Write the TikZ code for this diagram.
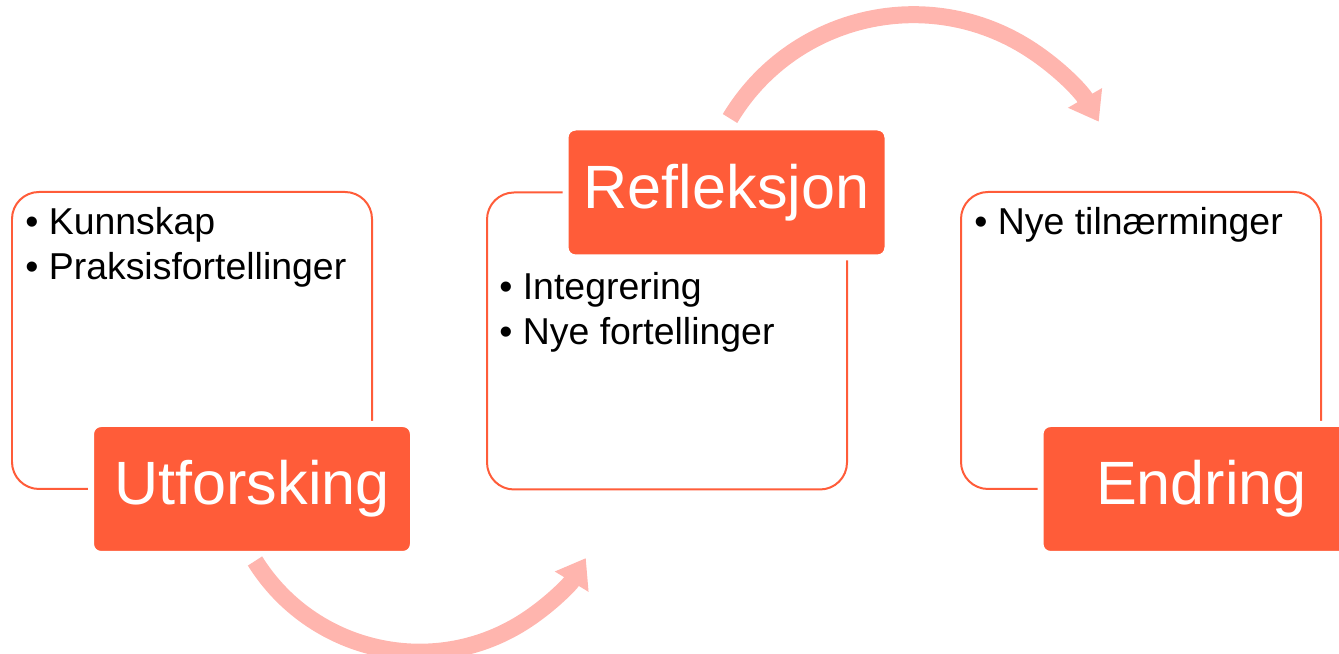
\documentclass[tikz,border=0pt]{standalone}
\usepackage{fontspec}
\setmainfont{Liberation Sans}
\usepackage{xcolor}
\usepackage{tikz}
\usetikzlibrary{positioning, arrows.meta}

\definecolor{accent}{RGB}{255,92,57}
\definecolor{flowpink}{RGB}{255,181,174}
\newcommand{\bitem}[1]{\makebox[0.47cm][l]{\textbullet}#1}

\begin{document}
\begin{tikzpicture}[
    panel/.style={rectangle, rounded corners=0.54cm, draw=accent, line width=0.04cm, minimum width=7.2cm, minimum height=5.94cm},
    stage/.style={rectangle, rounded corners=0.2cm, fill=accent, draw=white, line width=0.12cm, minimum width=6.44cm, minimum height=2.6cm, inner sep=0, text=white, font=\fontsize{34.8}{40}\selectfont},
    item/.style={inner sep=0, anchor=base west, font=\fontsize{21.3}{25}\selectfont},
    flow/.style={draw=flowpink, line width=0.34cm, -{Triangle[length=0.55cm, width=0.75cm]}}
]
\clip (0, 0) rectangle (26.78, 13.08);

\node[panel] (box1) at (3.84, 6.27) {};
\node[panel] (box2) at (13.34, 6.26) {};
\node[panel] (box3) at (22.82, 6.27) {};

\node[item] (kunn) at (0.5, 8.38) {\bitem{Kunnskap}};
\node[item] (praks) at (0.5, 7.48) {\bitem{Praksisfortellinger}};
\node[item] (integ) at (9.98, 7.08) {\bitem{Integrering}};
\node[item] (nyefort) at (9.98, 6.18) {\bitem{Nye fortellinger}};
\node[item] (nyetil) at (19.48, 8.38) {\bitem{Nye tilnærminger}};

\node[stage] (utf) at (5.04, 3.30) {Utforsking};
\node[stage] (refl) at (14.53, 9.23) {Refleksjon};
\node[stage] (endr) at (24.03, 3.30) {Endring};

\draw[flow] ([shift={(0.06,-0.08)}]utf.south) arc[start angle=212, end angle=329, radius=3.88cm];
\draw[flow] ([shift={(0.07,0.12)}]refl.north) arc[start angle=149, end angle=30, radius=4.28cm];

\end{tikzpicture}
\end{document}
